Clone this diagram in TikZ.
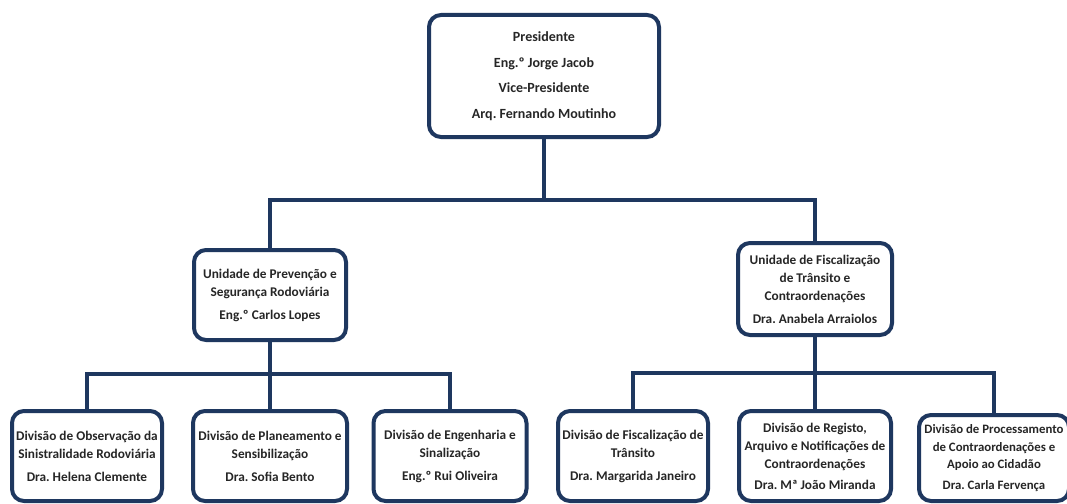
\documentclass[tikz,border=0pt]{standalone}
\usepackage{fontspec}
\setmainfont{Carlito}
\frenchspacing
\definecolor{navy}{RGB}{30,55,95}
\begin{document}
\begin{tikzpicture}[x=1pt,y=-1pt,
  box/.style={draw=navy, line width=4pt, rounded corners=12pt, fill=white,
    inner sep=0pt, align=center, font=\bfseries\fontsize{13.3}{18}\selectfont, text=black!85},
  conn/.style={draw=navy, line width=3.5pt}]
\useasboundingbox (0,0) rectangle (1067,503);
\clip (0,0) rectangle (1067,503);
\fill[white] (0,0) rectangle (1067,503);
% nodes
\node[box, minimum width=230pt, minimum height=122pt, font=\bfseries\fontsize{14}{25.5}\selectfont] (top) at (544,76)
  {Presidente\\Eng.º Jorge Jacob\\Vice-Presidente\\Arq. Fernando Moutinho};
\node[box, minimum width=152pt, minimum height=90pt] (midL) at (270,295)
  {Unidade de Prevenção e\\Segurança Rodoviária\\[5pt]Eng.º Carlos Lopes};
\node[box, minimum width=154pt, minimum height=92pt] (midR) at (815,289)
  {Unidade de Fiscalização\\de Trânsito e\\Contraordenações\\[5pt]Dra. Anabela Arraiolos};
\node[box, minimum width=150pt, minimum height=90pt] (b1) at (87,456)
  {Divisão de Observação da\\Sinistralidade Rodoviária\\[5pt]Dra. Helena Clemente};
\node[box, minimum width=154pt, minimum height=90pt] (b2) at (270,456)
  {Divisão de Planeamento e\\Sensibilização\\[5pt]Dra. Sofia Bento};
\node[box, minimum width=153pt, minimum height=90pt] (b3) at (450,456)
  {Divisão de Engenharia e\\Sinalização\\[5pt]Eng.º Rui Oliveira};
\node[box, minimum width=150pt, minimum height=90pt] (b4) at (633,456)
  {Divisão de Fiscalização de\\Trânsito\\[5pt]Dra. Margarida Janeiro};
\node[box, minimum width=152pt, minimum height=90pt] (b5) at (815,456)
  {Divisão de Registo,\\Arquivo e Notificações de\\Contraordenações\\[3pt]Dra. Mª João Miranda};
\node[box, minimum width=150pt, minimum height=86pt, font=\bfseries\fontsize{12.8}{17.5}\selectfont] (b6) at (994,458)
  {Divisão de Processamento\\de Contraordenações e\\Apoio ao Cidadão\\[3pt]Dra. Carla Fervença};
% junctions
\coordinate (j1) at (544,200);
\coordinate (j2) at (270,374);
\coordinate (j3) at (815,373);
% connectors
\draw[conn] (top.south) -- (j1);
\draw[conn] (midL.north) |- (j1) -| (midR.north);
\draw[conn] (midL.south) -- (j2);
\draw[conn] (b1.north) |- (j2) -| (b3.north);
\draw[conn] (j2) -- (b2.north);
\draw[conn] (midR.south) -- (j3);
\draw[conn] (b4.north) |- (j3) -| (b6.north);
\draw[conn] (j3) -- (b5.north);
\end{tikzpicture}
\end{document}
